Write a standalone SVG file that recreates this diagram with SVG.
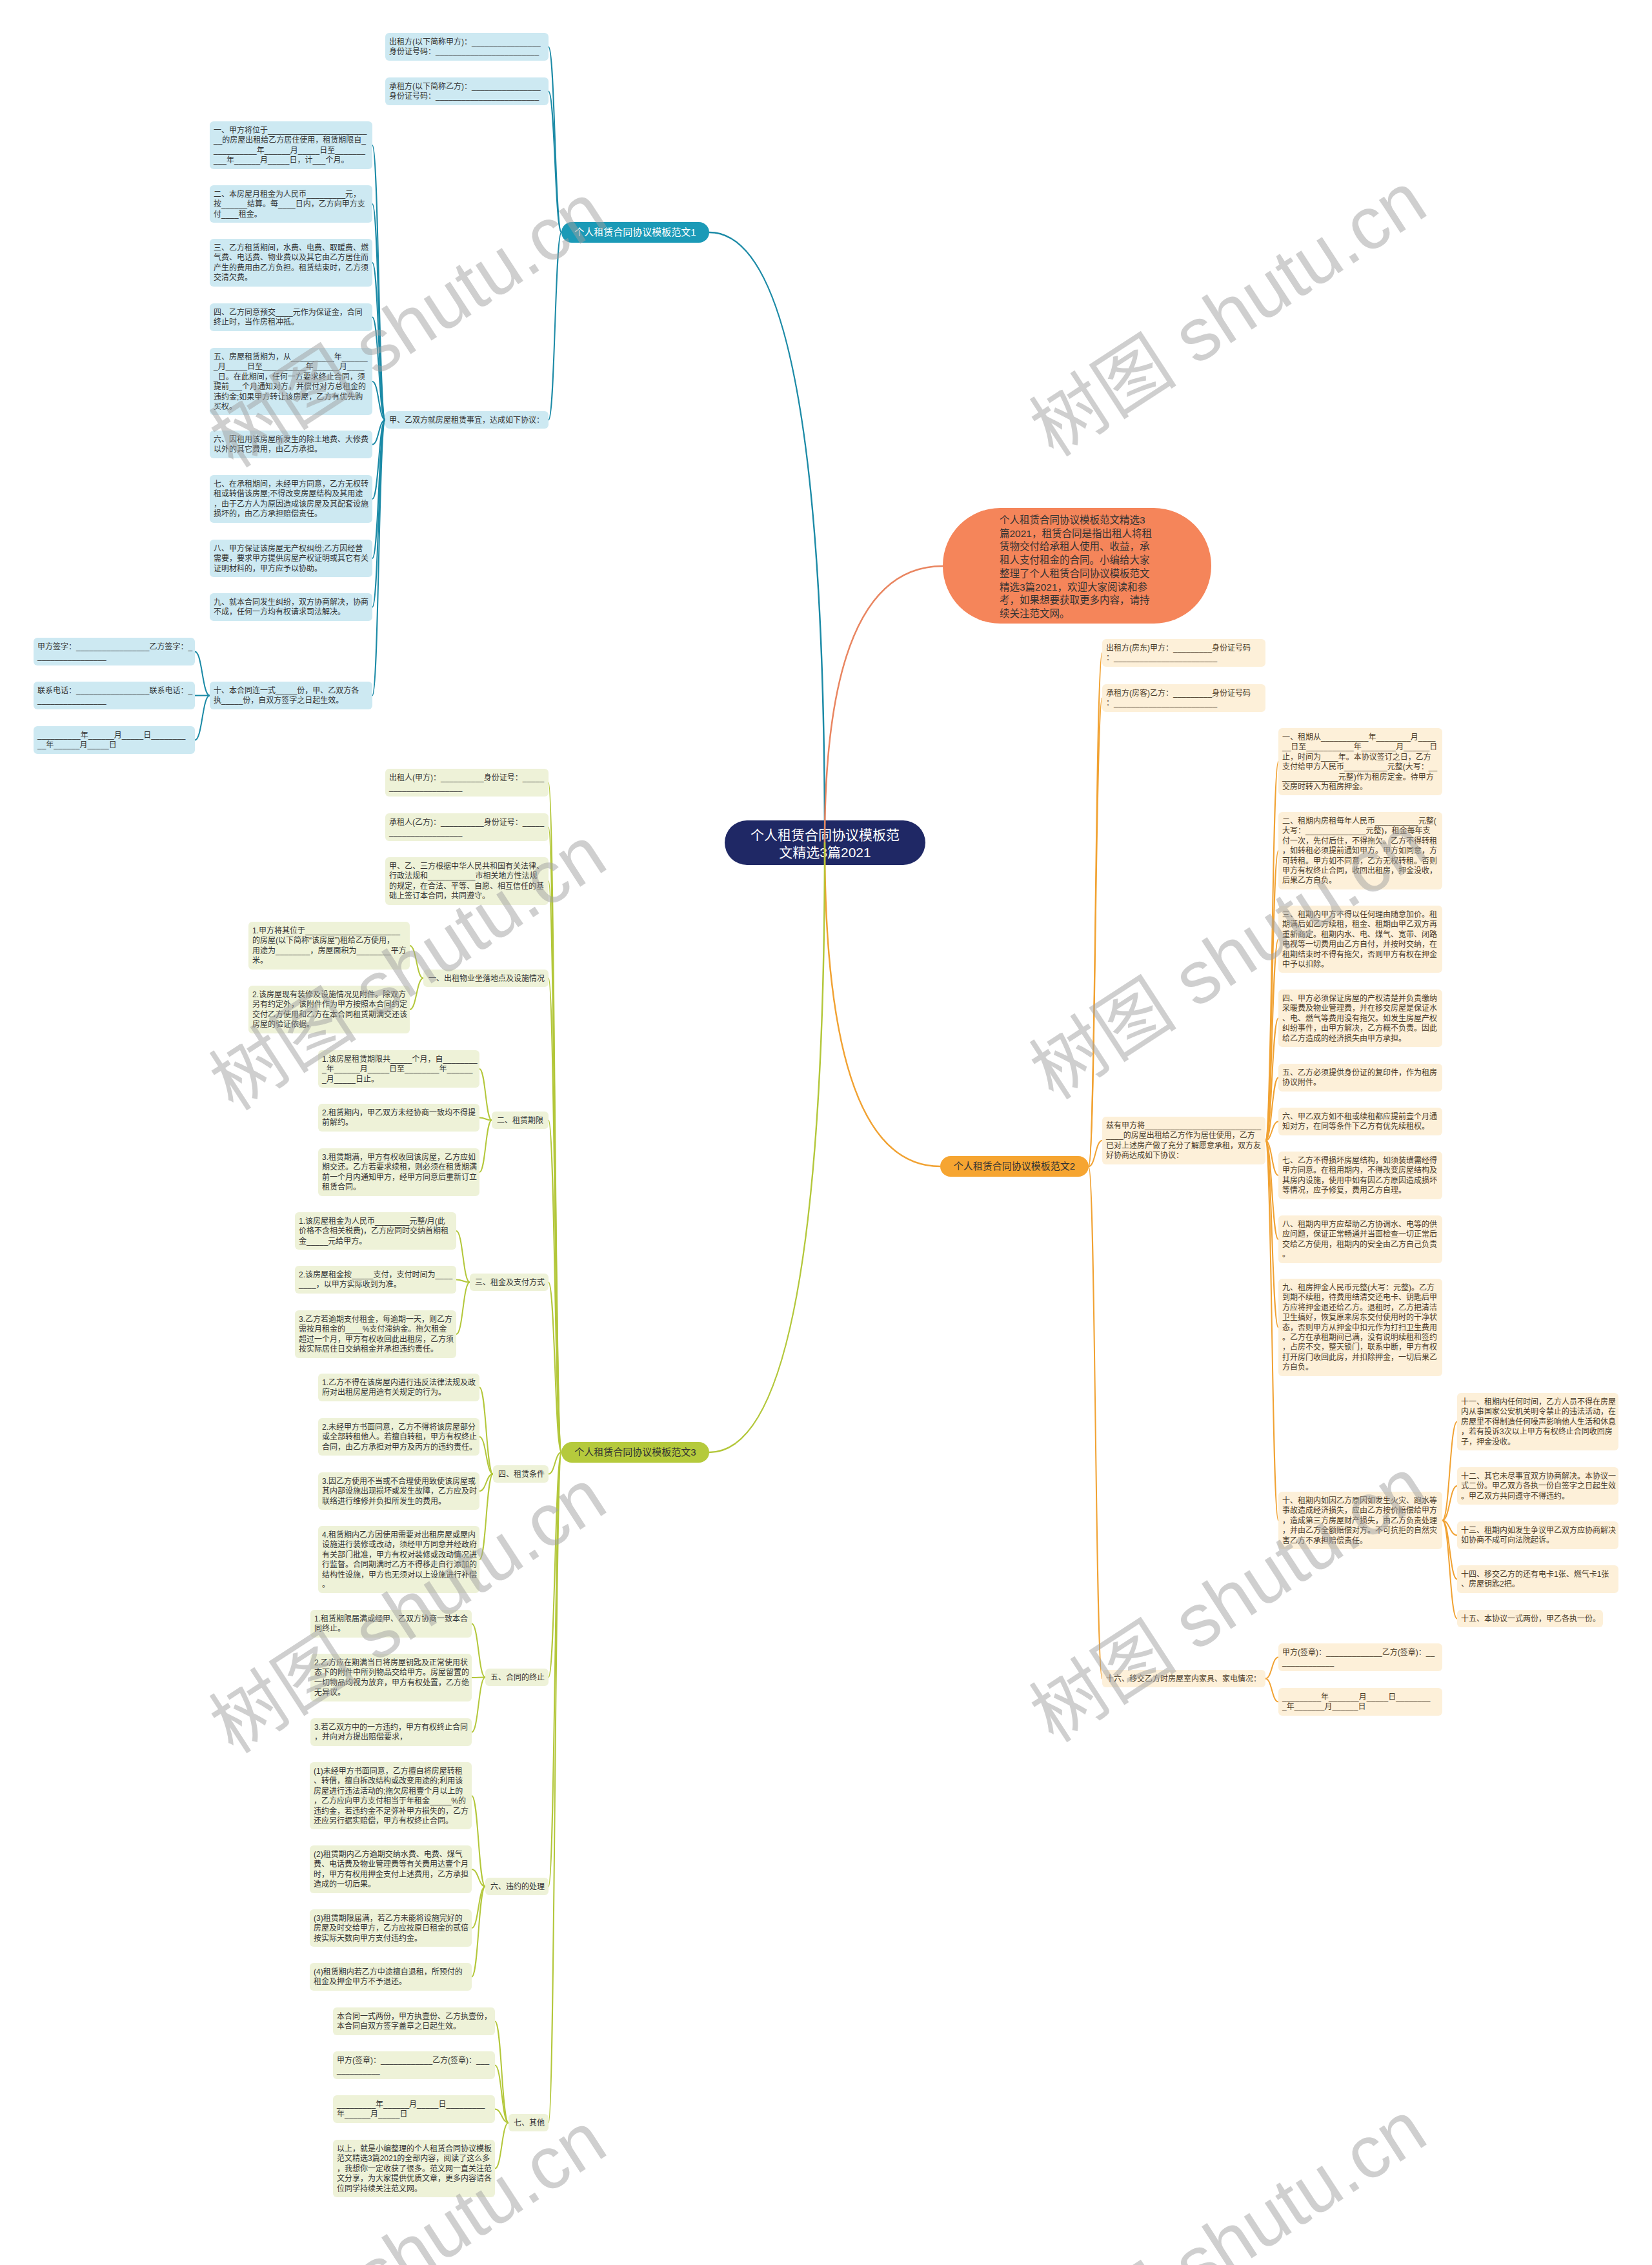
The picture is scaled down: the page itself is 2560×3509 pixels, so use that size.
<svg xmlns="http://www.w3.org/2000/svg" width="2560" height="3509" viewBox="0 0 2560 3509">
<style>
text{font-family:"Liberation Sans","Noto Sans CJK SC",sans-serif;}
.lf text{font-size:12px;fill:#333}
.b1 rect{fill:#cde9f2}
.b2 rect{fill:#fdf0d9}
.b3 rect{fill:#eef2d8}
.b2 text{fill:#4a3a28}
#connectors path{fill:none;stroke-width:2}
#connectors .c0{stroke-width:2.5}
.c1{stroke:#1b8aa6}
.c2{stroke:#f1a232}
.c3{stroke:#b3c73a}
.c4{stroke:#e98560}
.wm{font-family:"Liberation Serif","Noto Sans CJK SC",serif;font-size:115px;fill:#a0a0a0;fill-opacity:.5}
</style>
<rect width="2560" height="3509" fill="#ffffff"/>

<g id="center">
<rect x="1123" y="1271" width="311" height="69" rx="34.5" fill="#1f2865"/>
<text x="1278.5" y="1301" text-anchor="middle" font-size="21" fill="#fff">个人租赁合同协议模板范</text>
<text x="1278.5" y="1328" text-anchor="middle" font-size="21" fill="#fff">文精选3篇2021</text>
</g>

<g id="connectors">
<path class="c1 c0" d="M1278,1305 Q1278,360 1099,360"/>
<path class="c4 c0" d="M1278,1305 Q1278,877 1461,877"/>
<path class="c2 c0" d="M1278,1305 Q1278,1807 1457,1807"/>
<path class="c3 c0" d="M1278,1305 Q1278,2250 1099,2250"/>

<path class="c1" d="M870,360 C860,360 860,72.5 850,72.5"/>
<path class="c1" d="M870,360 C860,360 860,141.5 850,141.5"/>
<path class="c1" d="M870,360 C860,360 860,650.5 850,650.5"/>
<path class="c1" d="M597,650.5 C587,650.5 587,225 577,225"/>
<path class="c1" d="M597,650.5 C587,650.5 587,316 577,316"/>
<path class="c1" d="M597,650.5 C587,650.5 587,407 577,407"/>
<path class="c1" d="M597,650.5 C587,650.5 587,491.5 577,491.5"/>
<path class="c1" d="M597,650.5 C587,650.5 587,591 577,591"/>
<path class="c1" d="M597,650.5 C587,650.5 587,688.5 577,688.5"/>
<path class="c1" d="M597,650.5 C587,650.5 587,773 577,773"/>
<path class="c1" d="M597,650.5 C587,650.5 587,865 577,865"/>
<path class="c1" d="M597,650.5 C587,650.5 587,940.5 577,940.5"/>
<path class="c1" d="M597,650.5 C587,650.5 587,1077.5 577,1077.5"/>
<path class="c1" d="M325,1077.5 C313.5,1077.5 313.5,1009.5 302,1009.5"/>
<path class="c1" d="M325,1077.5 C313.5,1077.5 313.5,1077.5 302,1077.5"/>
<path class="c1" d="M325,1077.5 C313.5,1077.5 313.5,1146.5 302,1146.5"/>

<path class="c2" d="M1687,1807 C1697.5,1807 1697.5,1011.5 1708,1011.5"/>
<path class="c2" d="M1687,1807 C1697.5,1807 1697.5,1081.5 1708,1081.5"/>
<path class="c2" d="M1687,1807 C1697.5,1807 1697.5,1767 1708,1767"/>
<path class="c2" d="M1687,1807 C1697.5,1807 1697.5,2600.5 1708,2600.5"/>
<path class="c2" d="M1961,1767 C1971,1767 1971,1180 1981,1180"/>
<path class="c2" d="M1961,1767 C1971,1767 1971,1318 1981,1318"/>
<path class="c2" d="M1961,1767 C1971,1767 1971,1455 1981,1455"/>
<path class="c2" d="M1961,1767 C1971,1767 1971,1577.5 1981,1577.5"/>
<path class="c2" d="M1961,1767 C1971,1767 1971,1669.5 1981,1669.5"/>
<path class="c2" d="M1961,1767 C1971,1767 1971,1737.5 1981,1737.5"/>
<path class="c2" d="M1961,1767 C1971,1767 1971,1821 1981,1821"/>
<path class="c2" d="M1961,1767 C1971,1767 1971,1920 1981,1920"/>
<path class="c2" d="M1961,1767 C1971,1767 1971,2056.5 1981,2056.5"/>
<path class="c2" d="M1961,1767 C1971,1767 1971,2355.5 1981,2355.5"/>
<path class="c2" d="M2235,2355.5 C2246.5,2355.5 2246.5,2202.5 2258,2202.5"/>
<path class="c2" d="M2235,2355.5 C2246.5,2355.5 2246.5,2302 2258,2302"/>
<path class="c2" d="M2235,2355.5 C2246.5,2355.5 2246.5,2378.5 2258,2378.5"/>
<path class="c2" d="M2235,2355.5 C2246.5,2355.5 2246.5,2446.5 2258,2446.5"/>
<path class="c2" d="M2235,2355.5 C2246.5,2355.5 2246.5,2507.5 2258,2507.5"/>
<path class="c2" d="M1961,2600.5 C1971,2600.5 1971,2567.5 1981,2567.5"/>
<path class="c2" d="M1961,2600.5 C1971,2600.5 1971,2636.5 1981,2636.5"/>

<path class="c3" d="M870,2250 C860,2250 860,1212.5 850,1212.5"/>
<path class="c3" d="M870,2250 C860,2250 860,1281.5 850,1281.5"/>
<path class="c3" d="M870,2250 C860,2250 860,1365 850,1365"/>
<path class="c3" d="M870,2250 C860,2250 860,1515.5 850,1515.5"/>
<path class="c3" d="M870,2250 C860,2250 860,1735.5 850,1735.5"/>
<path class="c3" d="M870,2250 C860,2250 860,1986.5 850,1986.5"/>
<path class="c3" d="M870,2250 C860,2250 860,2283.5 850,2283.5"/>
<path class="c3" d="M870,2250 C860,2250 860,2598.5 850,2598.5"/>
<path class="c3" d="M870,2250 C860,2250 860,2922.5 850,2922.5"/>
<path class="c3" d="M870,2250 C860,2250 860,3288.5 850,3288.5"/>
<path class="c3" d="M656,1515.5 C645.5,1515.5 645.5,1465 635,1465"/>
<path class="c3" d="M656,1515.5 C645.5,1515.5 645.5,1564 635,1564"/>
<path class="c3" d="M762,1735.5 C752.5,1735.5 752.5,1656 743,1656"/>
<path class="c3" d="M762,1735.5 C752.5,1735.5 752.5,1731.5 743,1731.5"/>
<path class="c3" d="M762,1735.5 C752.5,1735.5 752.5,1816 743,1816"/>
<path class="c3" d="M728,1986.5 C717.5,1986.5 717.5,1907 707,1907"/>
<path class="c3" d="M728,1986.5 C717.5,1986.5 717.5,1982.5 707,1982.5"/>
<path class="c3" d="M728,1986.5 C717.5,1986.5 717.5,2067 707,2067"/>
<path class="c3" d="M764,2283.5 C753.5,2283.5 753.5,2149.5 743,2149.5"/>
<path class="c3" d="M764,2283.5 C753.5,2283.5 753.5,2226 743,2226"/>
<path class="c3" d="M764,2283.5 C753.5,2283.5 753.5,2310 743,2310"/>
<path class="c3" d="M764,2283.5 C753.5,2283.5 753.5,2416 743,2416"/>
<path class="c3" d="M752,2598.5 C741.5,2598.5 741.5,2515.5 731,2515.5"/>
<path class="c3" d="M752,2598.5 C741.5,2598.5 741.5,2599 731,2599"/>
<path class="c3" d="M752,2598.5 C741.5,2598.5 741.5,2683.5 731,2683.5"/>
<path class="c3" d="M752,2922.5 C741.5,2922.5 741.5,2782 731,2782"/>
<path class="c3" d="M752,2922.5 C741.5,2922.5 741.5,2896 731,2896"/>
<path class="c3" d="M752,2922.5 C741.5,2922.5 741.5,2987 731,2987"/>
<path class="c3" d="M752,2922.5 C741.5,2922.5 741.5,3062.5 731,3062.5"/>
<path class="c3" d="M788,3288.5 C777.5,3288.5 777.5,3131.5 767,3131.5"/>
<path class="c3" d="M788,3288.5 C777.5,3288.5 777.5,3199.5 767,3199.5"/>
<path class="c3" d="M788,3288.5 C777.5,3288.5 777.5,3267.5 767,3267.5"/>
<path class="c3" d="M788,3288.5 C777.5,3288.5 777.5,3359.5 767,3359.5"/>
</g>

<g id="intro">
<rect x="1461" y="787" width="416" height="179" rx="89" fill="#f5855a"/>
<text font-size="15.5" fill="#333"><tspan x="1549" y="811">个人租赁合同协议模板范文精选3</tspan><tspan x="1549" dy="20.7">篇2021，租赁合同是指出租人将租</tspan><tspan x="1549" dy="20.7">赁物交付给承租人使用、收益，承</tspan><tspan x="1549" dy="20.7">租人支付租金的合同。小编给大家</tspan><tspan x="1549" dy="20.7">整理了个人租赁合同协议模板范文</tspan><tspan x="1549" dy="20.7">精选3篇2021，欢迎大家阅读和参</tspan><tspan x="1549" dy="20.7">考，如果想要获取更多内容，请持</tspan><tspan x="1549" dy="20.7">续关注范文网。</tspan></text>
</g>

<g id="branch1-label"><rect x="870" y="344" width="229" height="32" rx="16" fill="#1b9ab7"/><text x="984.5" y="365.3" text-anchor="middle" font-size="15" fill="#fff">个人租赁合同协议模板范文1</text></g>
<g id="branch2-label"><rect x="1457" y="1791" width="230" height="32" rx="16" fill="#f6a531"/><text x="1572" y="1812.3" text-anchor="middle" font-size="15" fill="#333">个人租赁合同协议模板范文2</text></g>
<g id="branch3-label"><rect x="870" y="2234" width="229" height="32" rx="16" fill="#b5ca3c"/><text x="984.5" y="2255.3" text-anchor="middle" font-size="15" fill="#333">个人租赁合同协议模板范文3</text></g>

<g class="lf b1">
<g id="a1"><rect x="597" y="51" width="253" height="43" rx="6"/><text><tspan x="603" y="69">出租方(以下简称甲方)：________________</tspan><tspan x="603" dy="15.4">身份证号码：________________________</tspan></text></g>
<g id="a2"><rect x="597" y="120" width="253" height="43" rx="6"/><text><tspan x="603" y="138">承租方(以下简称乙方)：________________</tspan><tspan x="603" dy="15.4">身份证号码：________________________</tspan></text></g>
<g id="a3"><rect x="597" y="637" width="253" height="27" rx="6"/><text x="603" y="655">甲、乙双方就房屋租赁事宜，达成如下协议：</text></g>
<g id="a3-1"><rect x="325" y="188" width="252" height="74" rx="6"/><text><tspan x="331" y="206">一、甲方将位于_______________________</tspan><tspan x="331" dy="15.4">__的房屋出租给乙方居住使用，租赁期限自_</tspan><tspan x="331" dy="15.4">__________年______月_____日至_______</tspan><tspan x="331" dy="15.4">___年______月_____日，计___个月。</tspan></text></g>
<g id="a3-2"><rect x="325" y="287" width="252" height="58" rx="6"/><text><tspan x="331" y="305">二、本房屋月租金为人民币_________元，</tspan><tspan x="331" dy="15.4">按______结算。每____日内，乙方向甲方支</tspan><tspan x="331" dy="15.4">付____租金。</tspan></text></g>
<g id="a3-3"><rect x="325" y="370" width="252" height="74" rx="6"/><text><tspan x="331" y="388">三、乙方租赁期间，水费、电费、取暖费、燃</tspan><tspan x="331" dy="15.4">气费、电话费、物业费以及其它由乙方居住而</tspan><tspan x="331" dy="15.4">产生的费用由乙方负担。租赁结束时，乙方须</tspan><tspan x="331" dy="15.4">交清欠费。</tspan></text></g>
<g id="a3-4"><rect x="325" y="470" width="252" height="43" rx="6"/><text><tspan x="331" y="488">四、乙方同意预交____元作为保证金，合同</tspan><tspan x="331" dy="15.4">终止时，当作房租冲抵。</tspan></text></g>
<g id="a3-5"><rect x="325" y="539" width="252" height="104" rx="6"/><text><tspan x="331" y="557">五、房屋租赁期为，从__________年______</tspan><tspan x="331" dy="15.4">_月_____日至__________年______月____</tspan><tspan x="331" dy="15.4">_日。在此期间，任何一方要求终止合同，须</tspan><tspan x="331" dy="15.4">提前___个月通知对方，并偿付对方总租金的</tspan><tspan x="331" dy="15.4">违约金;如果甲方转让该房屋，乙方有优先购</tspan><tspan x="331" dy="15.4">买权。</tspan></text></g>
<g id="a3-6"><rect x="325" y="667" width="252" height="43" rx="6"/><text><tspan x="331" y="685">六、因租用该房屋所发生的除土地费、大修费</tspan><tspan x="331" dy="15.4">以外的其它费用，由乙方承担。</tspan></text></g>
<g id="a3-7"><rect x="325" y="736" width="252" height="74" rx="6"/><text><tspan x="331" y="754">七、在承租期间，未经甲方同意，乙方无权转</tspan><tspan x="331" dy="15.4">租或转借该房屋;不得改变房屋结构及其用途</tspan><tspan x="331" dy="15.4">，由于乙方人为原因造成该房屋及其配套设施</tspan><tspan x="331" dy="15.4">损坏的，由乙方承担赔偿责任。</tspan></text></g>
<g id="a3-8"><rect x="325" y="836" width="252" height="58" rx="6"/><text><tspan x="331" y="854">八、甲方保证该房屋无产权纠纷;乙方因经营</tspan><tspan x="331" dy="15.4">需要，要求甲方提供房屋产权证明或其它有关</tspan><tspan x="331" dy="15.4">证明材料的，甲方应予以协助。</tspan></text></g>
<g id="a3-9"><rect x="325" y="919" width="252" height="43" rx="6"/><text><tspan x="331" y="937">九、就本合同发生纠纷，双方协商解决，协商</tspan><tspan x="331" dy="15.4">不成，任何一方均有权请求司法解决。</tspan></text></g>
<g id="a3-10"><rect x="325" y="1056" width="252" height="43" rx="6"/><text><tspan x="331" y="1074">十、本合同连一式_____份，甲、乙双方各</tspan><tspan x="331" dy="15.4">执_____份，自双方签字之日起生效。</tspan></text></g>
<g id="a3-10-1"><rect x="52" y="988" width="250" height="43" rx="6"/><text><tspan x="58" y="1006">甲方签字：_________________乙方签字：_</tspan><tspan x="58" dy="15.4">________________</tspan></text></g>
<g id="a3-10-2"><rect x="52" y="1056" width="250" height="43" rx="6"/><text><tspan x="58" y="1074">联系电话：_________________联系电话：_</tspan><tspan x="58" dy="15.4">________________</tspan></text></g>
<g id="a3-10-3"><rect x="52" y="1125" width="250" height="43" rx="6"/><text><tspan x="58" y="1143">__________年______月_____日________</tspan><tspan x="58" dy="15.4">__年______月_____日</tspan></text></g>
</g>

<g class="lf b2">
<g id="b2-1"><rect x="1708" y="990" width="253" height="43" rx="6"/><text><tspan x="1714" y="1008">出租方(房东)甲方：_________身份证号码</tspan><tspan x="1714" dy="15.4">：________________________</tspan></text></g>
<g id="b2-2"><rect x="1708" y="1060" width="253" height="43" rx="6"/><text><tspan x="1714" y="1078">承租方(房客)乙方：_________身份证号码</tspan><tspan x="1714" dy="15.4">：________________________</tspan></text></g>
<g id="b2-3"><rect x="1708" y="1730" width="253" height="74" rx="6"/><text><tspan x="1714" y="1748">兹有甲方将___________________________</tspan><tspan x="1714" dy="15.4">____的房屋出租给乙方作为居住使用，乙方</tspan><tspan x="1714" dy="15.4">已对上述房产做了充分了解愿意承租，双方友</tspan><tspan x="1714" dy="15.4">好协商达成如下协议：</tspan></text></g>
<g id="b2-3-1"><rect x="1981" y="1128" width="254" height="104" rx="6"/><text><tspan x="1987" y="1146">一、租期从___________年________月____</tspan><tspan x="1987" dy="15.4">__日至___________年________月______日</tspan><tspan x="1987" dy="15.4">止，时间为____年。本协议签订之日，乙方</tspan><tspan x="1987" dy="15.4">支付给甲方人民币__________元整(大写：__</tspan><tspan x="1987" dy="15.4">_____________元整)作为租房定金。待甲方</tspan><tspan x="1987" dy="15.4">交房时转入为租房押金。</tspan></text></g>
<g id="b2-3-2"><rect x="1981" y="1258" width="254" height="120" rx="6"/><text><tspan x="1987" y="1276">二、租期内房租每年人民币__________元整(</tspan><tspan x="1987" dy="15.4">大写：______________元整)，租金每年支</tspan><tspan x="1987" dy="15.4">付一次，先付后住，不得拖欠。乙方不得转租</tspan><tspan x="1987" dy="15.4">，如转租必须提前通知甲方。甲方如同意，方</tspan><tspan x="1987" dy="15.4">可转租。甲方如不同意，乙方无权转租。否则</tspan><tspan x="1987" dy="15.4">甲方有权终止合同，收回出租房，押金没收，</tspan><tspan x="1987" dy="15.4">后果乙方自负。</tspan></text></g>
<g id="b2-3-3"><rect x="1981" y="1403" width="254" height="104" rx="6"/><text><tspan x="1987" y="1421">三、租期内甲方不得以任何理由随意加价。租</tspan><tspan x="1987" dy="15.4">期满后如乙方续租，租金、租期由甲乙双方再</tspan><tspan x="1987" dy="15.4">重新商定。租期内水、电、煤气、宽带、闭路</tspan><tspan x="1987" dy="15.4">电视等一切费用由乙方自付，并按时交纳，在</tspan><tspan x="1987" dy="15.4">租期结束时不得有拖欠，否则甲方有权在押金</tspan><tspan x="1987" dy="15.4">中予以扣除。</tspan></text></g>
<g id="b2-3-4"><rect x="1981" y="1533" width="254" height="89" rx="6"/><text><tspan x="1987" y="1551">四、甲方必须保证房屋的产权清楚并负责缴纳</tspan><tspan x="1987" dy="15.4">采暖费及物业管理费，并在移交房屋是保证水</tspan><tspan x="1987" dy="15.4">、电、燃气等费用没有拖欠。如发生房屋产权</tspan><tspan x="1987" dy="15.4">纠纷事件，由甲方解决，乙方概不负责。因此</tspan><tspan x="1987" dy="15.4">给乙方造成的经济损失由甲方承担。</tspan></text></g>
<g id="b2-3-5"><rect x="1981" y="1648" width="254" height="43" rx="6"/><text><tspan x="1987" y="1666">五、乙方必须提供身份证的复印件，作为租房</tspan><tspan x="1987" dy="15.4">协议附件。</tspan></text></g>
<g id="b2-3-6"><rect x="1981" y="1716" width="254" height="43" rx="6"/><text><tspan x="1987" y="1734">六、甲乙双方如不租或续租都应提前壹个月通</tspan><tspan x="1987" dy="15.4">知对方，在同等条件下乙方有优先续租权。</tspan></text></g>
<g id="b2-3-7"><rect x="1981" y="1784" width="254" height="74" rx="6"/><text><tspan x="1987" y="1802">七、乙方不得损坏房屋结构，如须装璜需经得</tspan><tspan x="1987" dy="15.4">甲方同意。在租用期内，不得改变房屋结构及</tspan><tspan x="1987" dy="15.4">其房内设施，使用中如有因乙方原因造成损坏</tspan><tspan x="1987" dy="15.4">等情况，应予修复，费用乙方自理。</tspan></text></g>
<g id="b2-3-8"><rect x="1981" y="1883" width="254" height="74" rx="6"/><text><tspan x="1987" y="1901">八、租期内甲方应帮助乙方协调水、电等的供</tspan><tspan x="1987" dy="15.4">应问题，保证正常畅通并当面检查一切正常后</tspan><tspan x="1987" dy="15.4">交给乙方使用，租期内的安全由乙方自己负责</tspan><tspan x="1987" dy="15.4">。</tspan></text></g>
<g id="b2-3-9"><rect x="1981" y="1981" width="254" height="151" rx="6"/><text><tspan x="1987" y="1999">九、租房押金人民币元整(大写：元整)。乙方</tspan><tspan x="1987" dy="15.4">到期不续租，待费用结清交还电卡、钥匙后甲</tspan><tspan x="1987" dy="15.4">方应将押金退还给乙方。退租时，乙方把清洁</tspan><tspan x="1987" dy="15.4">卫生搞好，恢复原来房东交付使用时的干净状</tspan><tspan x="1987" dy="15.4">态，否则甲方从押金中扣元作为打扫卫生费用</tspan><tspan x="1987" dy="15.4">。乙方在承租期间已满，没有说明续租和签约</tspan><tspan x="1987" dy="15.4">，占房不交，整天锁门，联系中断，甲方有权</tspan><tspan x="1987" dy="15.4">打开房门收回此房，并扣除押金，一切后果乙</tspan><tspan x="1987" dy="15.4">方自负。</tspan></text></g>
<g id="b2-3-10"><rect x="1981" y="2311" width="254" height="89" rx="6"/><text><tspan x="1987" y="2329">十、租期内如因乙方原因如发生火灾、跑水等</tspan><tspan x="1987" dy="15.4">事故造成经济损失，应由乙方按价赔偿给甲方</tspan><tspan x="1987" dy="15.4">，造成第三方房屋财产损失，由乙方负责处理</tspan><tspan x="1987" dy="15.4">，并由乙方全额赔偿对方。不可抗拒的自然灾</tspan><tspan x="1987" dy="15.4">害乙方不承担赔偿责任。</tspan></text></g>
<g id="b2-3-10-1"><rect x="2258" y="2158" width="250" height="89" rx="6"/><text><tspan x="2264" y="2176">十一、租期内任何时间，乙方人员不得在房屋</tspan><tspan x="2264" dy="15.4">内从事国家公安机关明令禁止的违法活动，在</tspan><tspan x="2264" dy="15.4">房屋里不得制造任何噪声影响他人生活和休息</tspan><tspan x="2264" dy="15.4">，若有投诉3次以上甲方有权终止合同收回房</tspan><tspan x="2264" dy="15.4">子，押金没收。</tspan></text></g>
<g id="b2-3-10-2"><rect x="2258" y="2273" width="250" height="58" rx="6"/><text><tspan x="2264" y="2291">十二、其它未尽事宜双方协商解决。本协议一</tspan><tspan x="2264" dy="15.4">式二份。甲乙双方各执一份自签字之日起生效</tspan><tspan x="2264" dy="15.4">。甲乙双方共同遵守不得违约。</tspan></text></g>
<g id="b2-3-10-3"><rect x="2258" y="2357" width="250" height="43" rx="6"/><text><tspan x="2264" y="2375">十三、租期内如发生争议甲乙双方应协商解决</tspan><tspan x="2264" dy="15.4">如协商不成可向法院起诉。</tspan></text></g>
<g id="b2-3-10-4"><rect x="2258" y="2425" width="250" height="43" rx="6"/><text><tspan x="2264" y="2443">十四、移交乙方的还有电卡1张、燃气卡1张</tspan><tspan x="2264" dy="15.4">、房屋钥匙2把。</tspan></text></g>
<g id="b2-3-10-5"><rect x="2258" y="2494" width="226" height="27" rx="6"/><text x="2264" y="2512">十五、本协议一式两份，甲乙各执一份。</text></g>
<g id="b2-4"><rect x="1708" y="2587" width="253" height="27" rx="6"/><text x="1714" y="2605">十六、移交乙方时房屋室内家具、家电情况：</text></g>
<g id="b2-4-1"><rect x="1981" y="2546" width="254" height="43" rx="6"/><text><tspan x="1987" y="2564">甲方(签章)：_____________乙方(签章)：__</tspan><tspan x="1987" dy="15.4">____________</tspan></text></g>
<g id="b2-4-2"><rect x="1981" y="2615" width="254" height="43" rx="6"/><text><tspan x="1987" y="2633">_________年_______月_____日________</tspan><tspan x="1987" dy="15.4">_年_______月______日</tspan></text></g>
</g>

<g class="lf b3">
<g id="c1"><rect x="597" y="1191" width="253" height="43" rx="6"/><text><tspan x="603" y="1209">出租人(甲方)：__________身份证号：_____</tspan><tspan x="603" dy="15.4">_________________</tspan></text></g>
<g id="c2"><rect x="597" y="1260" width="253" height="43" rx="6"/><text><tspan x="603" y="1278">承租人(乙方)：__________身份证号：_____</tspan><tspan x="603" dy="15.4">_________________</tspan></text></g>
<g id="c3"><rect x="597" y="1328" width="253" height="74" rx="6"/><text><tspan x="603" y="1346">甲、乙、三方根据中华人民共和国有关法律、</tspan><tspan x="603" dy="15.4">行政法规和___________市相关地方性法规</tspan><tspan x="603" dy="15.4">的规定，在合法、平等、自愿、相互信任的基</tspan><tspan x="603" dy="15.4">础上签订本合同，共同遵守。</tspan></text></g>
<g id="c4"><rect x="656" y="1502" width="194" height="27" rx="6"/><text x="664" y="1520">一、出租物业坐落地点及设施情况</text></g>
<g id="c4-1"><rect x="385" y="1428" width="250" height="74" rx="6"/><text><tspan x="391" y="1446">1.甲方将其位于______________________</tspan><tspan x="391" dy="15.4">的房屋(以下简称“该房屋”)租给乙方使用，</tspan><tspan x="391" dy="15.4">用途为________，房屋面积为________平方</tspan><tspan x="391" dy="15.4">米。</tspan></text></g>
<g id="c4-2"><rect x="385" y="1527" width="250" height="74" rx="6"/><text><tspan x="391" y="1545">2.该房屋现有装修及设施情况见附件。除双方</tspan><tspan x="391" dy="15.4">另有约定外，该附件作为甲方按照本合同约定</tspan><tspan x="391" dy="15.4">交付乙方使用和乙方在本合同租赁期满交还该</tspan><tspan x="391" dy="15.4">房屋的验证依据。</tspan></text></g>
<g id="c5"><rect x="762" y="1722" width="88" height="27" rx="6"/><text x="770" y="1740">二、租赁期限</text></g>
<g id="c5-1"><rect x="493" y="1627" width="250" height="58" rx="6"/><text><tspan x="499" y="1645">1.该房屋租赁期限共_____个月，自________</tspan><tspan x="499" dy="15.4">_年______月_____日至________年______</tspan><tspan x="499" dy="15.4">_月_____日止。</tspan></text></g>
<g id="c5-2"><rect x="493" y="1710" width="250" height="43" rx="6"/><text><tspan x="499" y="1728">2.租赁期内，甲乙双方未经协商一致均不得提</tspan><tspan x="499" dy="15.4">前解约。</tspan></text></g>
<g id="c5-3"><rect x="493" y="1779" width="250" height="74" rx="6"/><text><tspan x="499" y="1797">3.租赁期满，甲方有权收回该房屋，乙方应如</tspan><tspan x="499" dy="15.4">期交还。乙方若要求续租，则必须在租赁期满</tspan><tspan x="499" dy="15.4">前一个月内通知甲方，经甲方同意后重新订立</tspan><tspan x="499" dy="15.4">租赁合同。</tspan></text></g>
<g id="c6"><rect x="728" y="1973" width="122" height="27" rx="6"/><text x="736" y="1991">三、租金及支付方式</text></g>
<g id="c6-1"><rect x="457" y="1878" width="250" height="58" rx="6"/><text><tspan x="463" y="1896">1.该房屋租金为人民币________元整/月(此</tspan><tspan x="463" dy="15.4">价格不含相关税费)，乙方应同时交纳首期租</tspan><tspan x="463" dy="15.4">金_____元给甲方。</tspan></text></g>
<g id="c6-2"><rect x="457" y="1961" width="250" height="43" rx="6"/><text><tspan x="463" y="1979">2.该房屋租金按_____支付，支付时间为____</tspan><tspan x="463" dy="15.4">____，以甲方实际收到为准。</tspan></text></g>
<g id="c6-3"><rect x="457" y="2030" width="250" height="74" rx="6"/><text><tspan x="463" y="2048">3.乙方若逾期支付租金，每逾期一天，则乙方</tspan><tspan x="463" dy="15.4">需按月租金的____%支付滞纳金。拖欠租金</tspan><tspan x="463" dy="15.4">超过一个月，甲方有权收回此出租房，乙方须</tspan><tspan x="463" dy="15.4">按实际居住日交纳租金并承担违约责任。</tspan></text></g>
<g id="c7"><rect x="764" y="2270" width="86" height="27" rx="6"/><text x="772" y="2288">四、租赁条件</text></g>
<g id="c7-1"><rect x="493" y="2128" width="250" height="43" rx="6"/><text><tspan x="499" y="2146">1.乙方不得在该房屋内进行违反法律法规及政</tspan><tspan x="499" dy="15.4">府对出租房屋用途有关规定的行为。</tspan></text></g>
<g id="c7-2"><rect x="493" y="2197" width="250" height="58" rx="6"/><text><tspan x="499" y="2215">2.未经甲方书面同意，乙方不得将该房屋部分</tspan><tspan x="499" dy="15.4">或全部转租他人。若擅自转租，甲方有权终止</tspan><tspan x="499" dy="15.4">合同，由乙方承担对甲方及丙方的违约责任。</tspan></text></g>
<g id="c7-3"><rect x="493" y="2281" width="250" height="58" rx="6"/><text><tspan x="499" y="2299">3.因乙方使用不当或不合理使用致使该房屋或</tspan><tspan x="499" dy="15.4">其内部设施出现损坏或发生故障，乙方应及时</tspan><tspan x="499" dy="15.4">联络进行维修并负担所发生的费用。</tspan></text></g>
<g id="c7-4"><rect x="493" y="2364" width="250" height="104" rx="6"/><text><tspan x="499" y="2382">4.租赁期内乙方因使用需要对出租房屋或屋内</tspan><tspan x="499" dy="15.4">设施进行装修或改动，须经甲方同意并经政府</tspan><tspan x="499" dy="15.4">有关部门批准，甲方有权对装修或改动情况进</tspan><tspan x="499" dy="15.4">行监督。合同期满时乙方不得移走自行添加的</tspan><tspan x="499" dy="15.4">结构性设施，甲方也无须对以上设施进行补偿</tspan><tspan x="499" dy="15.4">。</tspan></text></g>
<g id="c8"><rect x="752" y="2585" width="98" height="27" rx="6"/><text x="760" y="2603">五、合同的终止</text></g>
<g id="c8-1"><rect x="481" y="2494" width="250" height="43" rx="6"/><text><tspan x="487" y="2512">1.租赁期限届满或经甲、乙双方协商一致本合</tspan><tspan x="487" dy="15.4">同终止。</tspan></text></g>
<g id="c8-2"><rect x="481" y="2562" width="250" height="74" rx="6"/><text><tspan x="487" y="2580">2.乙方应在期满当日将房屋钥匙及正常使用状</tspan><tspan x="487" dy="15.4">态下的附件中所列物品交给甲方。房屋留置的</tspan><tspan x="487" dy="15.4">一切物品均视为放弃，甲方有权处置，乙方绝</tspan><tspan x="487" dy="15.4">无异议。</tspan></text></g>
<g id="c8-3"><rect x="481" y="2662" width="250" height="43" rx="6"/><text><tspan x="487" y="2680">3.若乙双方中的一方违约，甲方有权终止合同</tspan><tspan x="487" dy="15.4">，并向对方提出赔偿要求，</tspan></text></g>
<g id="c9"><rect x="752" y="2909" width="98" height="27" rx="6"/><text x="760" y="2927">六、违约的处理</text></g>
<g id="c9-1"><rect x="480" y="2730" width="251" height="104" rx="6"/><text><tspan x="486" y="2748">(1)未经甲方书面同意，乙方擅自将房屋转租</tspan><tspan x="486" dy="15.4">、转借，擅自拆改结构或改变用途的;利用该</tspan><tspan x="486" dy="15.4">房屋进行违法活动的;拖欠房租壹个月以上的</tspan><tspan x="486" dy="15.4">，乙方应向甲方支付相当于年租金_____%的</tspan><tspan x="486" dy="15.4">违约金，若违约金不足弥补甲方损失的，乙方</tspan><tspan x="486" dy="15.4">还应另行据实赔偿，甲方有权终止合同。</tspan></text></g>
<g id="c9-2"><rect x="480" y="2859" width="251" height="74" rx="6"/><text><tspan x="486" y="2877">(2)租赁期内乙方逾期交纳水费、电费、煤气</tspan><tspan x="486" dy="15.4">费、电话费及物业管理费等有关费用达壹个月</tspan><tspan x="486" dy="15.4">时，甲方有权用押金支付上述费用，乙方承担</tspan><tspan x="486" dy="15.4">造成的一切后果。</tspan></text></g>
<g id="c9-3"><rect x="480" y="2958" width="251" height="58" rx="6"/><text><tspan x="486" y="2976">(3)租赁期限届满，若乙方未能将设施完好的</tspan><tspan x="486" dy="15.4">房屋及时交给甲方，乙方应按原日租金的贰倍</tspan><tspan x="486" dy="15.4">按实际天数向甲方支付违约金。</tspan></text></g>
<g id="c9-4"><rect x="480" y="3041" width="251" height="43" rx="6"/><text><tspan x="486" y="3059">(4)租赁期内若乙方中途擅自退租，所预付的</tspan><tspan x="486" dy="15.4">租金及押金甲方不予退还。</tspan></text></g>
<g id="c10"><rect x="788" y="3275" width="62" height="27" rx="6"/><text x="796" y="3293">七、其他</text></g>
<g id="c10-1"><rect x="516" y="3110" width="251" height="43" rx="6"/><text><tspan x="522" y="3128">本合同一式两份，甲方执壹份、乙方执壹份，</tspan><tspan x="522" dy="15.4">本合同自双方签字盖章之日起生效。</tspan></text></g>
<g id="c10-2"><rect x="516" y="3178" width="251" height="43" rx="6"/><text><tspan x="522" y="3196">甲方(签章)：____________乙方(签章)：___</tspan><tspan x="522" dy="15.4">__________</tspan></text></g>
<g id="c10-3"><rect x="516" y="3246" width="251" height="43" rx="6"/><text><tspan x="522" y="3264">_________年______月_____日_________</tspan><tspan x="522" dy="15.4">年______月_____日</tspan></text></g>
<g id="c10-4"><rect x="516" y="3315" width="251" height="89" rx="6"/><text><tspan x="522" y="3333">以上，就是小编整理的个人租赁合同协议模板</tspan><tspan x="522" dy="15.4">范文精选3篇2021的全部内容，阅读了这么多</tspan><tspan x="522" dy="15.4">，我想你一定收获了很多。范文网一直关注范</tspan><tspan x="522" dy="15.4">文分享，为大家提供优质文章，更多内容请各</tspan><tspan x="522" dy="15.4">位同学持续关注范文网。</tspan></text></g>
</g>

<g id="watermark" class="wm" text-anchor="middle">
<text transform="translate(654,537) rotate(-33)">树图 shutu.cn</text>
<text transform="translate(1925,520) rotate(-33)">树图 shutu.cn</text>
<text transform="translate(654,1533) rotate(-33)">树图 shutu.cn</text>
<text transform="translate(1925,1516) rotate(-33)">树图 shutu.cn</text>
<text transform="translate(654,2529) rotate(-33)">树图 shutu.cn</text>
<text transform="translate(1925,2512) rotate(-33)">树图 shutu.cn</text>
<text transform="translate(654,3525) rotate(-33)">树图 shutu.cn</text>
<text transform="translate(1925,3508) rotate(-33)">树图 shutu.cn</text>
</g>
</svg>
